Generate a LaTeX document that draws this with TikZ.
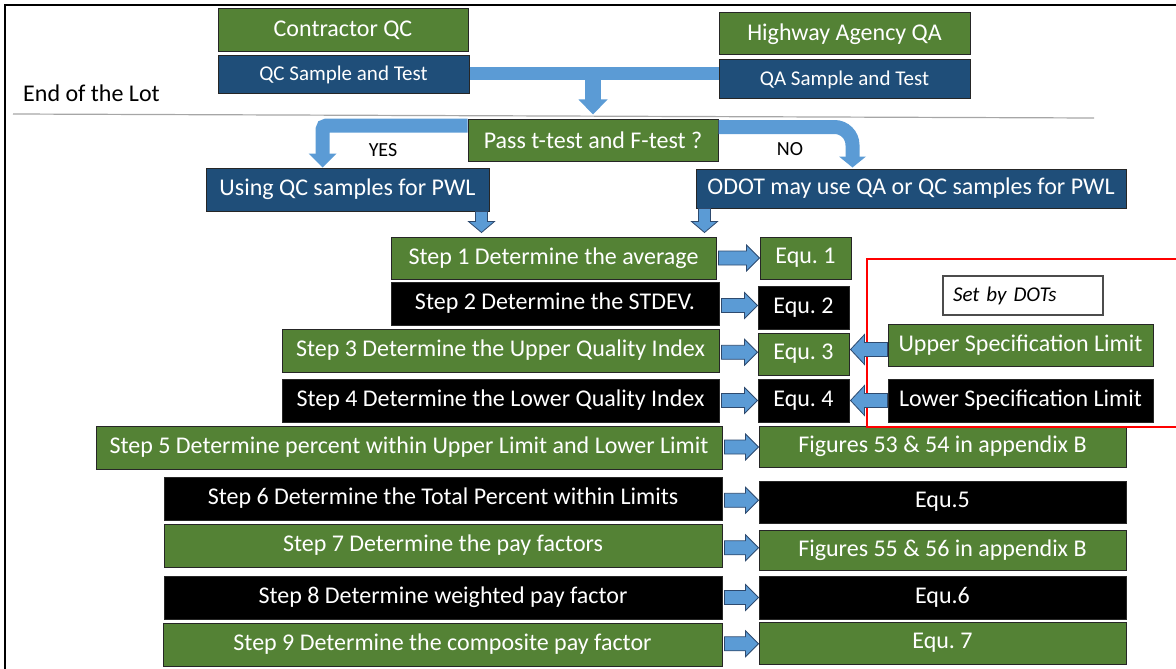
\documentclass[tikz,border=0pt]{standalone}
\usepackage{fontspec}
\setmainfont{Carlito}
\frenchspacing
\usetikzlibrary{calc}
\definecolor{boxgreen}{HTML}{548235}
\definecolor{boxblue}{HTML}{1F4E79}
\definecolor{flowblue}{HTML}{5B9BD5}
\definecolor{flowline}{HTML}{2E4A6E}
\tikzset{
  box/.style={draw=black!85, line width=1pt, text=white, inner sep=0pt,
    font=\fontsize{24}{28}\selectfont},
  greenbox/.style={box, fill=boxgreen},
  bluebox/.style={box, fill=boxblue},
  blackbox/.style={box, fill=black},
  samplebox/.style={bluebox, font=\fontsize{21}{25}\selectfont},
  flowband/.style={draw=flowblue, line width=13pt},
  flowedge/.style={fill=flowblue, draw=flowline, line width=0.8pt},
}
% block arrows between boxes
\newcommand{\blockright}[2]{%
  \path[flowedge] let \p1=(#1.east), \p2=(#2.west), \n1={0.5*(\y1+\y2)} in
    (\x1+2,\n1+7) -- (\x2-13,\n1+7) -- (\x2-13,\n1+13) -- (\x2,\n1)
    -- (\x2-13,\n1-13) -- (\x2-13,\n1-7) -- (\x1+2,\n1-7) -- cycle;}
\newcommand{\blockleft}[2]{%
  \path[flowedge] let \p1=(#1.west), \p2=(#2.east), \n1={0.5*(\y1+\y2)} in
    (\x1,\n1+7) -- (\x2+15,\n1+7) -- (\x2+15,\n1+15) -- (\x2+1,\n1)
    -- (\x2+15,\n1-15) -- (\x2+15,\n1-7) -- (\x1,\n1-7) -- cycle;}
\newcommand{\blockdown}[2]{%
  \path[flowedge] let \p1=(#1), \p2=(#2) in
    (\x1-6,\y1) -- (\x1-6,\y2+15) -- (\x1-13,\y2+15) -- (\x1,\y2+4)
    -- (\x1+13,\y2+15) -- (\x1+6,\y2+15) -- (\x1+6,\y1) -- cycle;}

\begin{document}
\begin{tikzpicture}[x=1pt,y=1pt]
  \useasboundingbox (0,0) rectangle (1176,-669);
  \draw[line width=2pt] (5,-669) -- (5,-5) -- (1176,-5);
  \draw[black!35, line width=1.2pt] (13,-114) -- (1094,-118);
  \node[anchor=base west, inner sep=0pt, font=\fontsize{24}{28}\selectfont] (lot) at (23,-101) {End of the Lot};

  % who samples
  \node[greenbox, minimum width=250, minimum height=43] (contractor) at (343,-30.5) {Contractor QC};
  \node[samplebox, minimum width=251, minimum height=38] (qcsample) at (343.5,-75) {QC Sample and Test};
  \node[greenbox, minimum width=251, minimum height=42] (highway) at (844.5,-34) {Highway Agency QA};
  \node[samplebox, minimum width=251, minimum height=39] (qasample) at (844.5,-79.5) {QA Sample and Test};

  \node[greenbox, minimum width=250, minimum height=42] (pass) at (593,-140) {Pass t-test and F-test ?};
  \node[bluebox, minimum width=283, minimum height=43] (using) at (347.5,-189.5) {Using QC samples for PWL};
  \node[bluebox, minimum width=430, minimum height=39] (odot) at (911,-188.5) {ODOT may use QA or QC samples for PWL};
  \node[anchor=base, inner sep=0pt, font=\fontsize{20}{24}\selectfont] (yes) at (383,-156) {YES};
  \node[anchor=base, inner sep=0pt, font=\fontsize{20}{24}\selectfont] (no) at (790,-155) {NO};

  % steps
  \node[greenbox, minimum width=325, minimum height=42] (step1) at (553.5,-258) {Step 1 Determine the average};
  \node[blackbox, minimum width=328, minimum height=43] (step2) at (555,-303.5) {Step 2 Determine the STDEV.};
  \node[greenbox, minimum width=437, minimum height=43] (step3) at (500.5,-350.5) {Step 3 Determine the Upper Quality Index};
  \node[blackbox, minimum width=437, minimum height=43] (step4) at (500.5,-400.5) {Step 4 Determine the Lower Quality Index};
  \node[greenbox, minimum width=626, minimum height=43] (step5) at (409,-447.5) {Step 5 Determine percent within Upper Limit and Lower Limit};
  \node[blackbox, minimum width=558, minimum height=43] (step6) at (443,-498.5) {Step 6 Determine the Total Percent within Limits};
  \node[greenbox, minimum width=558, minimum height=43] (step7) at (443,-545.5) {Step 7 Determine the pay factors};
  \node[blackbox, minimum width=558, minimum height=43] (step8) at (443,-597.5) {Step 8 Determine weighted pay factor};
  \node[greenbox, minimum width=559, minimum height=43] (step9) at (442.5,-644.5) {Step 9 Determine the composite pay factor};

  % results
  \node[greenbox, minimum width=91, minimum height=42] (equ1) at (805.5,-258) {Equ. 1};
  \node[blackbox, minimum width=91, minimum height=43] (equ2) at (803.5,-307.5) {Equ. 2};
  \node[greenbox, minimum width=91, minimum height=42] (equ3) at (803.5,-354) {Equ. 3};
  \node[blackbox, minimum width=91, minimum height=43] (equ4) at (803.5,-400.5) {Equ. 4};
  \node[greenbox, minimum width=367, minimum height=41] (fig53) at (942.5,-446.5) {Figures 53 \& 54 in appendix B};
  \node[blackbox, minimum width=367, minimum height=42] (equ5) at (942.5,-502) {Equ.5};
  \node[greenbox, minimum width=367, minimum height=40] (fig55) at (942.5,-550) {Figures 55 \& 56 in appendix B};
  \node[blackbox, minimum width=367, minimum height=43] (equ6) at (942.5,-597.5) {Equ.6};
  \node[greenbox, minimum width=367, minimum height=42] (equ7) at (942.5,-643) {Equ. 7};

  % limits set by the DOTs
  \draw[red, line width=2.5pt] (1185,-259) -- (867,-259) -- (867,-427) -- (1185,-427);
  \node[draw=black!70, line width=1.2pt, fill=white, minimum width=160, minimum height=39,
    inner xsep=10pt, inner ysep=0pt, text width=140, align=left,
    font=\fontsize{21}{25}\selectfont\itshape] (dots) at (1023,-295.5) {Set by DOTs};
  \node[greenbox, minimum width=265, minimum height=42] (usl) at (1020.5,-345) {Upper Specification Limit};
  \node[blackbox, minimum width=265, minimum height=43] (lsl) at (1020.5,-400.5) {Lower Specification Limit};

  % flow arrows
  \draw[flowband] (qcsample.east |- 0,-73.5) -- (qasample.west |- 0,-73.5);
  \draw[flowblue, line width=16pt] (pass.north |- 0,-73.5) -- (pass.north |- 0,-101);
  \fill[flowblue] (pass.north) ++(-14.5,19) -- ++(29,0) -- ++(-14.5,-15) -- cycle;

  \draw[flowband, line width=14pt, rounded corners=4pt] (pass.north west |- 0,-125.5) -| (322.5,-156);
  \fill[flowblue] (using.north -| 308.5,0) ++(0,14) -- ++(28,0) -- ++(-14,-14) -- cycle;
  \draw[flowband, line width=14pt, rounded corners=18pt] (pass.north east |- 0,-127) -| (852.5,-158);
  \fill[flowblue] (odot.north -| 839,0) ++(0,12) -- ++(27,0) -- ++(-13.5,-11) -- cycle;

  \blockdown{[xshift=-8pt]using.south east}{step1.north}
  \blockdown{[xshift=9pt]odot.south west}{step1.north}

  \foreach \s/\e in {step1/equ1,step2/equ2,step3/equ3,step4/equ4,step5/fig53,
                     step6/equ5,step7/fig55,step8/equ6,step9/equ7}
    {\blockright{\s}{\e}}
  \blockleft{usl}{equ3}
  \blockleft{lsl}{equ4}
\end{tikzpicture}
\end{document}
